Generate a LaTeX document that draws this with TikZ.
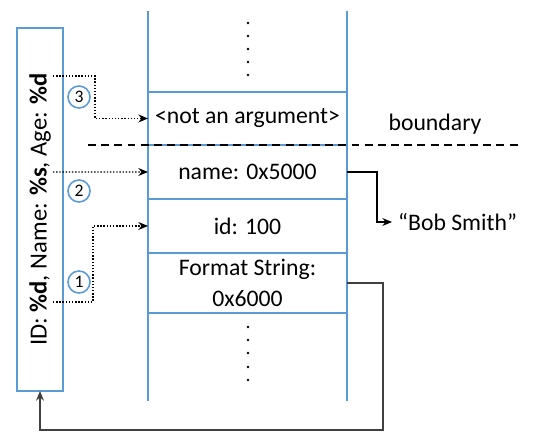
\documentclass[tikz,border=0pt]{standalone}
\usepackage{fontspec}
\setmainfont{Carlito}
\usetikzlibrary{calc,positioning,arrows.meta,chains}
\definecolor{cellblue}{RGB}{91,155,213}
\tikzset{
		>={Stealth[length=5.5pt,width=4.5pt]},
			cell/.style={rectangle, draw=cellblue, line width=1.2pt, outer sep=0pt,
				minimum width=3.98cm, inner sep=0pt, align=center, on chain},
			argbox/.style={rectangle, draw=cellblue, line width=1.4pt, outer sep=0pt,
				minimum width=0.92cm, minimum height=7.26cm, inner sep=0pt,
				font=\fontsize{14}{16}\selectfont},
			num/.style={circle, draw=cellblue, line width=0.9pt, inner sep=0pt,
				minimum size=0.44cm, font=\fontsize{10}{10}\selectfont},
			ptr/.style={->, densely dotted, thick},
			link/.style={->, semithick},
			annot/.style={text centered},
		}

\begin{document}
\begin{tikzpicture}
				[x=0.02cm, y=-0.02cm, node distance=0pt,
				start chain=going below,
				font=\fontsize{13.5}{15}\selectfont]
				\useasboundingbox (0,0) rectangle (537,446);

				\node[cell, anchor=north, minimum height=1.06cm] (na) at (247.5,92) {<not an argument>};
				\node[cell, minimum height=1.08cm] (name) {name: 0x5000};
				\node[cell, minimum height=1.08cm] (id)   {id: 100};
				\node[cell, minimum height=1.2cm, font=\fontsize{13.5}{17.5}\selectfont] (fs) {Format String:\\0x6000};

				\draw[cellblue, line width=1.2pt] (na.west |- 0,11) -- (na.west |- 0,401);
				\draw[cellblue, line width=1.2pt] (na.east |- 0,11) -- (na.east |- 0,401);
				\foreach \y in {23,36,49,62,75}   \fill (248,\y) circle (1.3);
				\foreach \y in {327,340,353,367,380} \fill (248,\y) circle (1.3);

				\node[argbox] (fmt) at (40,209.5) {\rotatebox{90}{ID: \textbf{\%d}, Name: \textbf{\%s}, Age: \textbf{\%d}}};

				\draw[dashed, dash pattern=on 4.5pt off 3pt, semithick] (88,145) -- (520,145);
				\node[annot] (bnd) at (435,124) {boundary};

				\coordinate (s3) at (53,76);
				\coordinate (s2) at (53,172);
				\coordinate (s1) at (53,302);
				\node[num] (c3) at (79,97)  {3};
				\node[num] (c2) at (79,191) {2};
				\node[num] (c1) at (79,282) {1};

				\draw[ptr] (s3) -- ++(42,0) |- (na.west);
				\draw[ptr] (s2) -- (name.west);
				\draw[ptr] (s1) -- ++(40,0) |- (id.west);

				\node[annot, anchor=west] (bob) at (392,222) {“Bob Smith”};
				\draw[link] (name.east) -- ++(30,0) |- (bob.west);
				\draw[link, draw=darkgray, thick] (fs.east) -- ++(36,0) |- ($(fmt.south)+(0,39)$) -- (fmt.south);

			\end{tikzpicture}
\end{document}
